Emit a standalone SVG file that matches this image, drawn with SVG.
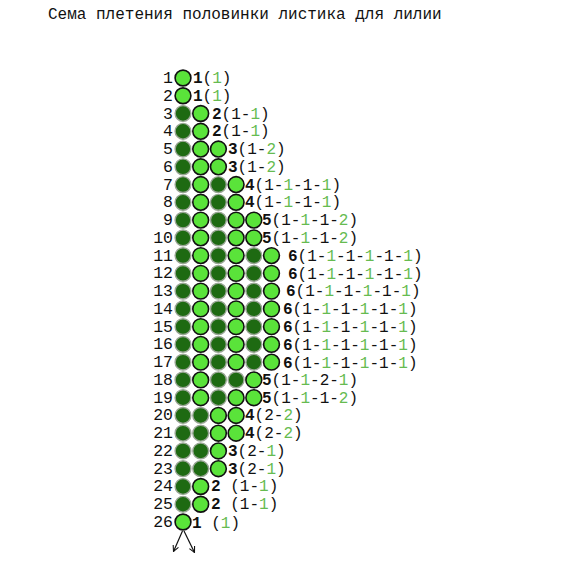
<svg xmlns="http://www.w3.org/2000/svg" width="564" height="562" viewBox="0 0 564 562">
<defs>
<style>
.l{fill:#5ae33a;stroke:#111;stroke-width:1.6}
.d{fill:#1e6a12;stroke:#9aa696;stroke-width:1.4}
text{font-family:"Liberation Mono","Courier New",monospace;font-size:16px;fill:#111}
.n{text-anchor:end;font-size:16.5px}
.c{font-weight:bold}
.g{fill:#66bb50}
.con{stroke:#111;stroke-width:1.2;fill:none}
</style>
<marker id="ah" viewBox="0 0 10 10" refX="9" refY="5" markerWidth="6" markerHeight="6" orient="auto">
<path d="M1,1 L9,5 L1,9" fill="none" stroke="#111" stroke-width="1.5"/>
</marker>
</defs>
<rect width="564" height="562" fill="#fff"/>
<text x="48" y="19">Сема плетения половинки листика для лилии</text>

<g id="row1"><text class="n" x="173" y="83">1</text><circle class="l" cx="183" cy="78" r="7.9"/><text x="193" y="83"><tspan class="c">1</tspan>(<tspan class="g">1</tspan>)</text></g>
<g id="row2"><text class="n" x="173" y="100.76">2</text><circle class="l" cx="183" cy="95.76" r="7.9"/><text x="193" y="100.76"><tspan class="c">1</tspan>(<tspan class="g">1</tspan>)</text></g>
<g id="row3"><text class="n" x="173" y="118.52">3</text><circle class="d" cx="183" cy="113.52" r="7.9"/><circle class="l" cx="200.7" cy="113.52" r="7.9"/><text x="212" y="118.52"><tspan class="c">2</tspan>(1-<tspan class="g">1</tspan>)</text></g>
<g id="row4"><text class="n" x="173" y="136.28">4</text><circle class="d" cx="183" cy="131.28" r="7.9"/><circle class="l" cx="200.7" cy="131.28" r="7.9"/><text x="212" y="136.28"><tspan class="c">2</tspan>(1-<tspan class="g">1</tspan>)</text></g>
<g id="row5"><text class="n" x="173" y="154.04">5</text><circle class="d" cx="183" cy="149.04" r="7.9"/><circle class="l" cx="200.7" cy="149.04" r="7.9"/><circle class="l" cx="218.4" cy="149.04" r="7.9"/><text x="228" y="154.04"><tspan class="c">3</tspan>(1-<tspan class="g">2</tspan>)</text></g>
<g id="row6"><text class="n" x="173" y="171.8">6</text><circle class="d" cx="183" cy="166.8" r="7.9"/><circle class="l" cx="200.7" cy="166.8" r="7.9"/><circle class="l" cx="218.4" cy="166.8" r="7.9"/><text x="228" y="171.8"><tspan class="c">3</tspan>(1-<tspan class="g">2</tspan>)</text></g>
<g id="row7"><text class="n" x="173" y="189.56">7</text><circle class="d" cx="183" cy="184.56" r="7.9"/><circle class="l" cx="200.7" cy="184.56" r="7.9"/><circle class="d" cx="218.4" cy="184.56" r="7.9"/><circle class="l" cx="236.1" cy="184.56" r="7.9"/><text x="245" y="189.56"><tspan class="c">4</tspan>(1-<tspan class="g">1</tspan>-1-<tspan class="g">1</tspan>)</text></g>
<g id="row8"><text class="n" x="173" y="207.32">8</text><circle class="d" cx="183" cy="202.32" r="7.9"/><circle class="l" cx="200.7" cy="202.32" r="7.9"/><circle class="d" cx="218.4" cy="202.32" r="7.9"/><circle class="l" cx="236.1" cy="202.32" r="7.9"/><text x="245" y="207.32"><tspan class="c">4</tspan>(1-<tspan class="g">1</tspan>-1-<tspan class="g">1</tspan>)</text></g>
<g id="row9"><text class="n" x="173" y="225.08">9</text><circle class="d" cx="183" cy="220.08" r="7.9"/><circle class="l" cx="200.7" cy="220.08" r="7.9"/><circle class="d" cx="218.4" cy="220.08" r="7.9"/><circle class="l" cx="236.1" cy="220.08" r="7.9"/><circle class="l" cx="253.8" cy="220.08" r="7.9"/><text x="262" y="225.08"><tspan class="c">5</tspan>(1-<tspan class="g">1</tspan>-1-<tspan class="g">2</tspan>)</text></g>
<g id="row10"><text class="n" x="173" y="242.84">10</text><circle class="d" cx="183" cy="237.84" r="7.9"/><circle class="l" cx="200.7" cy="237.84" r="7.9"/><circle class="d" cx="218.4" cy="237.84" r="7.9"/><circle class="l" cx="236.1" cy="237.84" r="7.9"/><circle class="l" cx="253.8" cy="237.84" r="7.9"/><text x="262" y="242.84"><tspan class="c">5</tspan>(1-<tspan class="g">1</tspan>-1-<tspan class="g">2</tspan>)</text></g>
<g id="row11"><text class="n" x="173" y="260.6">11</text><circle class="d" cx="183" cy="255.6" r="7.9"/><circle class="l" cx="200.7" cy="255.6" r="7.9"/><circle class="d" cx="218.4" cy="255.6" r="7.9"/><circle class="l" cx="236.1" cy="255.6" r="7.9"/><circle class="d" cx="253.8" cy="255.6" r="7.9"/><circle class="l" cx="271.5" cy="255.6" r="7.9"/><text x="288" y="261"><tspan class="c">6</tspan>(1-<tspan class="g">1</tspan>-1-<tspan class="g">1</tspan>-1-<tspan class="g">1</tspan>)</text></g>
<g id="row12"><text class="n" x="173" y="278.36">12</text><circle class="d" cx="183" cy="273.36" r="7.9"/><circle class="l" cx="200.7" cy="273.36" r="7.9"/><circle class="d" cx="218.4" cy="273.36" r="7.9"/><circle class="l" cx="236.1" cy="273.36" r="7.9"/><circle class="d" cx="253.8" cy="273.36" r="7.9"/><circle class="l" cx="271.5" cy="273.36" r="7.9"/><text x="288" y="279"><tspan class="c">6</tspan>(1-<tspan class="g">1</tspan>-1-<tspan class="g">1</tspan>-1-<tspan class="g">1</tspan>)</text></g>
<g id="row13"><text class="n" x="173" y="296.12">13</text><circle class="d" cx="183" cy="291.12" r="7.9"/><circle class="l" cx="200.7" cy="291.12" r="7.9"/><circle class="d" cx="218.4" cy="291.12" r="7.9"/><circle class="l" cx="236.1" cy="291.12" r="7.9"/><circle class="d" cx="253.8" cy="291.12" r="7.9"/><circle class="l" cx="271.5" cy="291.12" r="7.9"/><text x="286" y="296.12"><tspan class="c">6</tspan>(1-<tspan class="g">1</tspan>-1-<tspan class="g">1</tspan>-1-<tspan class="g">1</tspan>)</text></g>
<g id="row14"><text class="n" x="173" y="313.88">14</text><circle class="d" cx="183" cy="308.88" r="7.9"/><circle class="l" cx="200.7" cy="308.88" r="7.9"/><circle class="d" cx="218.4" cy="308.88" r="7.9"/><circle class="l" cx="236.1" cy="308.88" r="7.9"/><circle class="d" cx="253.8" cy="308.88" r="7.9"/><circle class="l" cx="271.5" cy="308.88" r="7.9"/><text x="283" y="313.88"><tspan class="c">6</tspan>(1-<tspan class="g">1</tspan>-1-<tspan class="g">1</tspan>-1-<tspan class="g">1</tspan>)</text></g>
<g id="row15"><text class="n" x="173" y="331.64">15</text><circle class="d" cx="183" cy="326.64" r="7.9"/><circle class="l" cx="200.7" cy="326.64" r="7.9"/><circle class="d" cx="218.4" cy="326.64" r="7.9"/><circle class="l" cx="236.1" cy="326.64" r="7.9"/><circle class="d" cx="253.8" cy="326.64" r="7.9"/><circle class="l" cx="271.5" cy="326.64" r="7.9"/><text x="283" y="331.64"><tspan class="c">6</tspan>(1-<tspan class="g">1</tspan>-1-<tspan class="g">1</tspan>-1-<tspan class="g">1</tspan>)</text></g>
<g id="row16"><text class="n" x="173" y="349.4">16</text><circle class="d" cx="183" cy="344.4" r="7.9"/><circle class="l" cx="200.7" cy="344.4" r="7.9"/><circle class="d" cx="218.4" cy="344.4" r="7.9"/><circle class="l" cx="236.1" cy="344.4" r="7.9"/><circle class="d" cx="253.8" cy="344.4" r="7.9"/><circle class="l" cx="271.5" cy="344.4" r="7.9"/><text x="283" y="350"><tspan class="c">6</tspan>(1-<tspan class="g">1</tspan>-1-<tspan class="g">1</tspan>-1-<tspan class="g">1</tspan>)</text></g>
<g id="row17"><text class="n" x="173" y="367.16">17</text><circle class="d" cx="183" cy="362.16" r="7.9"/><circle class="l" cx="200.7" cy="362.16" r="7.9"/><circle class="d" cx="218.4" cy="362.16" r="7.9"/><circle class="l" cx="236.1" cy="362.16" r="7.9"/><circle class="d" cx="253.8" cy="362.16" r="7.9"/><circle class="l" cx="271.5" cy="362.16" r="7.9"/><text x="283" y="367.5"><tspan class="c">6</tspan>(1-<tspan class="g">1</tspan>-1-<tspan class="g">1</tspan>-1-<tspan class="g">1</tspan>)</text></g>
<g id="row18"><text class="n" x="173" y="384.92">18</text><circle class="d" cx="183" cy="379.92" r="7.9"/><circle class="l" cx="200.7" cy="379.92" r="7.9"/><circle class="d" cx="218.4" cy="379.92" r="7.9"/><circle class="d" cx="236.1" cy="379.92" r="7.9"/><circle class="l" cx="253.8" cy="379.92" r="7.9"/><text x="262" y="384.92"><tspan class="c">5</tspan>(1-<tspan class="g">1</tspan>-2-<tspan class="g">1</tspan>)</text></g>
<g id="row19"><text class="n" x="173" y="402.68">19</text><circle class="d" cx="183" cy="397.68" r="7.9"/><circle class="l" cx="200.7" cy="397.68" r="7.9"/><circle class="d" cx="218.4" cy="397.68" r="7.9"/><circle class="l" cx="236.1" cy="397.68" r="7.9"/><circle class="l" cx="253.8" cy="397.68" r="7.9"/><text x="262" y="402.68"><tspan class="c">5</tspan>(1-<tspan class="g">1</tspan>-1-<tspan class="g">2</tspan>)</text></g>
<g id="row20"><text class="n" x="173" y="420.44">20</text><circle class="d" cx="183" cy="415.44" r="7.9"/><circle class="d" cx="200.7" cy="415.44" r="7.9"/><circle class="l" cx="218.4" cy="415.44" r="7.9"/><circle class="l" cx="236.1" cy="415.44" r="7.9"/><text x="245" y="420.44"><tspan class="c">4</tspan>(2-<tspan class="g">2</tspan>)</text></g>
<g id="row21"><text class="n" x="173" y="438.2">21</text><circle class="d" cx="183" cy="433.2" r="7.9"/><circle class="d" cx="200.7" cy="433.2" r="7.9"/><circle class="l" cx="218.4" cy="433.2" r="7.9"/><circle class="l" cx="236.1" cy="433.2" r="7.9"/><text x="245" y="438.2"><tspan class="c">4</tspan>(2-<tspan class="g">2</tspan>)</text></g>
<g id="row22"><text class="n" x="173" y="455.96">22</text><circle class="d" cx="183" cy="450.96" r="7.9"/><circle class="d" cx="200.7" cy="450.96" r="7.9"/><circle class="l" cx="218.4" cy="450.96" r="7.9"/><text x="228" y="455.96"><tspan class="c">3</tspan>(2-<tspan class="g">1</tspan>)</text></g>
<g id="row23"><text class="n" x="173" y="473.72">23</text><circle class="d" cx="183" cy="468.72" r="7.9"/><circle class="d" cx="200.7" cy="468.72" r="7.9"/><circle class="l" cx="218.4" cy="468.72" r="7.9"/><text x="228" y="473.72"><tspan class="c">3</tspan>(2-<tspan class="g">1</tspan>)</text></g>
<g id="row24"><text class="n" x="173" y="491.48">24</text><circle class="d" cx="183" cy="486.48" r="7.9"/><circle class="l" cx="200.7" cy="486.48" r="7.9"/><text x="211" y="491.48"><tspan class="c">2</tspan> (1-<tspan class="g">1</tspan>)</text></g>
<g id="row25"><text class="n" x="173" y="509.24">25</text><circle class="d" cx="183" cy="504.24" r="7.9"/><circle class="l" cx="200.7" cy="504.24" r="7.9"/><text x="211" y="509.24"><tspan class="c">2</tspan> (1-<tspan class="g">1</tspan>)</text></g>
<g id="row26"><text class="n" x="173" y="527">26</text><circle class="l" cx="183" cy="522" r="7.9"/><text x="192" y="528"><tspan class="c">1</tspan> (<tspan class="g">1</tspan>)</text></g>

<g id="connectors">
<line class="con" x1="182.5" y1="531" x2="173.5" y2="551.5" marker-end="url(#ah)"/>
<line class="con" x1="184" y1="531" x2="194.5" y2="552.5" marker-end="url(#ah)"/>
</g>
</svg>
